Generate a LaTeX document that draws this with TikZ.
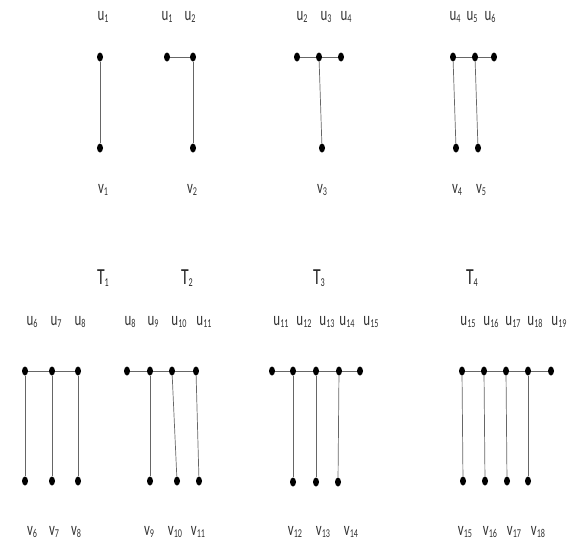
\documentclass[tikz,border=0pt]{standalone}
\usepackage{fontspec}
\setmainfont{Carlito}
\newfontfamily\lblfont[FakeStretch=0.68]{Carlito}
\usetikzlibrary{shapes.geometric}
\newcommand\lsub[1]{\raisebox{-2.5pt}{\fontsize{12}{14}\selectfont #1}}
\tikzset{
  vtx/.style={ellipse,fill=black,inner sep=0pt,minimum width=6pt,minimum height=9pt},
  lbl/.style={font=\lblfont\fontsize{19}{21}\selectfont,text=black!80,inner sep=0pt},
  tlbl/.style={font=\lblfont\fontsize{23}{25}\selectfont,text=black!85,inner sep=0pt},
  link/.style={draw=black!60,line width=0.7pt}
}
\begin{document}
\begin{tikzpicture}[x=1pt,y=-1pt]
\useasboundingbox (0,0) rectangle (571,541);

% T1
\node[vtx] (t1a) at (100,57) {};
\node[vtx] (t1b) at (100,148) {};
\node[lbl] (t1u1) at (103,17) {u\lsub{1}};
\node[lbl] (t1v1) at (103,190) {v\lsub{1}};
\draw[link] (t1a)--(t1b);

% T2
\node[vtx] (t2a) at (167,57) {};
\node[vtx] (t2b) at (193,57) {};
\node[vtx] (t2c) at (193,148) {};
\node[lbl] (t2u1) at (167,17) {u\lsub{1}};
\node[lbl] (t2u2) at (190,17) {u\lsub{2}};
\node[lbl] (t2v2) at (192,190) {v\lsub{2}};
\draw[link] (t2a)--(t2b);
\draw[link] (t2b)--(t2c);

% T3
\node[vtx] (t3a) at (297,57) {};
\node[vtx] (t3b) at (319,57) {};
\node[vtx] (t3c) at (341,57) {};
\node[vtx] (t3d) at (322,148) {};
\node[lbl] (t3u2) at (302,17) {u\lsub{2}};
\node[lbl] (t3u3) at (326,17) {u\lsub{3}};
\node[lbl] (t3u4) at (346,17) {u\lsub{4}};
\node[lbl] (t3v3) at (322,190) {v\lsub{3}};
\draw[link] (t3a)--(t3b)--(t3c);
\draw[link] (t3b)--(t3d);

% T4
\node[vtx] (t4a) at (453,57) {};
\node[vtx] (t4b) at (475,57) {};
\node[vtx] (t4c) at (494,57) {};
\node[vtx] (t4d) at (456,148) {};
\node[vtx] (t4e) at (478,148) {};
\node[lbl] (t4u4) at (455,17) {u\lsub{4}};
\node[lbl] (t4u5) at (472,17) {u\lsub{5}};
\node[lbl] (t4u6) at (490,17) {u\lsub{6}};
\node[lbl] (t4v4) at (457,190) {v\lsub{4}};
\node[lbl] (t4v5) at (481,190) {v\lsub{5}};
\draw[link] (t4a)--(t4b)--(t4c);
\draw[link] (t4a)--(t4d);
\draw[link] (t4b)--(t4e);

% tree names
\node[tlbl] (T1) at (103,278) {T\lsub{1}};
\node[tlbl] (T2) at (187,278) {T\lsub{2}};
\node[tlbl] (T3) at (319,278) {T\lsub{3}};
\node[tlbl] (T4) at (472,278) {T\lsub{4}};

% bottom group 1
\node[vtx] (g1a) at (25,371) {};
\node[vtx] (g1b) at (52,371) {};
\node[vtx] (g1c) at (78,371) {};
\node[vtx] (g1d) at (25,481) {};
\node[vtx] (g1e) at (52,481) {};
\node[vtx] (g1f) at (78,481) {};
\node[lbl] (g1u6) at (32,322) {u\lsub{6}};
\node[lbl] (g1u7) at (56,322) {u\lsub{7}};
\node[lbl] (g1u8) at (80,322) {u\lsub{8}};
\node[lbl] (g1v6) at (32,532) {v\lsub{6}};
\node[lbl] (g1v7) at (54,532) {v\lsub{7}};
\node[lbl] (g1v8) at (76,532) {v\lsub{8}};
\draw[link] (g1a)--(g1b)--(g1c);
\draw[link] (g1a)--(g1d);
\draw[link] (g1b)--(g1e);
\draw[link] (g1c)--(g1f);

% bottom group 2
\node[vtx] (g2a) at (127,371) {};
\node[vtx] (g2b) at (150,371) {};
\node[vtx] (g2c) at (172,371) {};
\node[vtx] (g2d) at (196,371) {};
\node[vtx] (g2e) at (150,481) {};
\node[vtx] (g2f) at (177,481) {};
\node[vtx] (g2g) at (199,481) {};
\node[lbl] (g2u8) at (130,322) {u\lsub{8}};
\node[lbl] (g2u9) at (153,322) {u\lsub{9}};
\node[lbl] (g2u10) at (179,322) {u\lsub{10}};
\node[lbl] (g2u11) at (204,322) {u\lsub{11}};
\node[lbl] (g2v9) at (149,532) {v\lsub{9}};
\node[lbl] (g2v10) at (175,532) {v\lsub{10}};
\node[lbl] (g2v11) at (198,532) {v\lsub{11}};
\draw[link] (g2a)--(g2b)--(g2c)--(g2d);
\draw[link] (g2b)--(g2e);
\draw[link] (g2c)--(g2f);
\draw[link] (g2d)--(g2g);

% bottom group 3
\node[vtx] (g3a) at (272,371) {};
\node[vtx] (g3b) at (293,371) {};
\node[vtx] (g3c) at (316,371) {};
\node[vtx] (g3d) at (339,371) {};
\node[vtx] (g3e) at (360,371) {};
\node[vtx] (g3f) at (293,482) {};
\node[vtx] (g3g) at (316,482) {};
\node[vtx] (g3h) at (338,482) {};
\node[lbl] (g3u11) at (281,322) {u\lsub{11}};
\node[lbl] (g3u12) at (304,322) {u\lsub{12}};
\node[lbl] (g3u13) at (327,322) {u\lsub{13}};
\node[lbl] (g3u14) at (347,322) {u\lsub{14}};
\node[lbl] (g3u15) at (371,322) {u\lsub{15}};
\node[lbl] (g3v12) at (295,532) {v\lsub{12}};
\node[lbl] (g3v13) at (323,532) {v\lsub{13}};
\node[lbl] (g3v14) at (351,532) {v\lsub{14}};
\draw[link] (g3a)--(g3b)--(g3c)--(g3d)--(g3e);
\draw[link] (g3b)--(g3f);
\draw[link] (g3c)--(g3g);
\draw[link] (g3d)--(g3h);

% bottom group 4
\node[vtx] (g4a) at (462,371) {};
\node[vtx] (g4b) at (484,371) {};
\node[vtx] (g4c) at (506,371) {};
\node[vtx] (g4d) at (528,371) {};
\node[vtx] (g4e) at (551,371) {};
\node[vtx] (g4f) at (463,481) {};
\node[vtx] (g4g) at (485,481) {};
\node[vtx] (g4h) at (507,481) {};
\node[vtx] (g4i) at (528,481) {};
\node[lbl] (g4u15) at (468,322) {u\lsub{15}};
\node[lbl] (g4u16) at (491,322) {u\lsub{16}};
\node[lbl] (g4u17) at (513,322) {u\lsub{17}};
\node[lbl] (g4u18) at (535,322) {u\lsub{18}};
\node[lbl] (g4u19) at (559,322) {u\lsub{19}};
\node[lbl] (g4v15) at (465,532) {v\lsub{15}};
\node[lbl] (g4v16) at (490,532) {v\lsub{16}};
\node[lbl] (g4v17) at (514,532) {v\lsub{17}};
\node[lbl] (g4v18) at (538,532) {v\lsub{18}};
\draw[link] (g4a)--(g4b)--(g4c)--(g4d)--(g4e);
\draw[link] (g4a)--(g4f);
\draw[link] (g4b)--(g4g);
\draw[link] (g4c)--(g4h);
\draw[link] (g4d)--(g4i);
\end{tikzpicture}
\end{document}
